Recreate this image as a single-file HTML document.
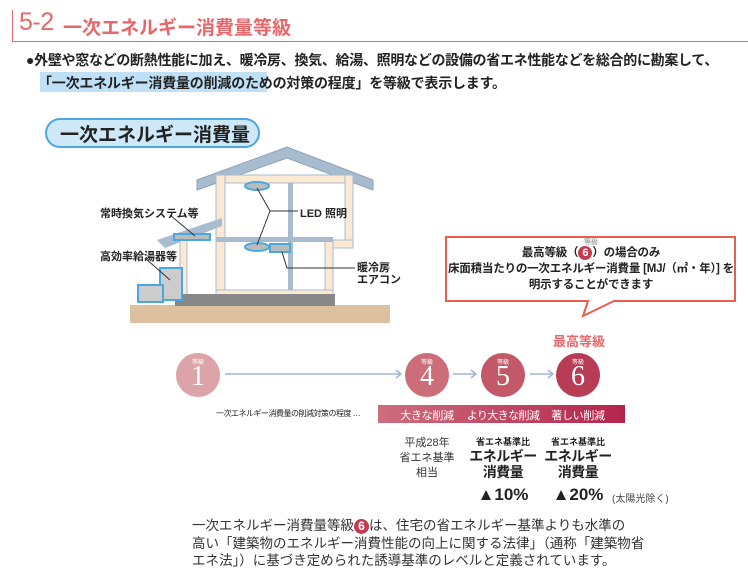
<!DOCTYPE html>
<html><head><meta charset="utf-8"><style>
body{margin:0;width:748px;height:578px;background:#fff;position:relative;overflow:hidden;font-family:"Liberation Sans","Noto Sans CJK JP",sans-serif;color:#222}
.a{position:absolute;white-space:nowrap}
.c{transform:translateX(-50%);text-align:center}
</style></head><body>
<div class="a" style="left:12px;top:10px;width:1px;height:31px;background:#e8676a"></div>
<div class="a" style="left:12px;top:41px;width:736px;height:1px;background:#e8676a"></div>
<div class="a" style="left:19px;top:8px;font-size:25px;color:#e8676a;letter-spacing:-0.5px">5-2</div>
<div class="a" style="left:63px;top:13px;font-size:19px;color:#e8676a;font-weight:bold">一次エネルギー消費量等級</div>
<div class="a" style="left:40px;top:72px;width:227px;height:20px;background:#bfe0f5"></div>
<div class="a" style="left:26px;top:50px;font-size:14px;font-weight:bold;letter-spacing:-0.3px">●外壁や窓などの断熱性能に加え、暖冷房、換気、給湯、照明などの設備の省エネ性能などを総合的に勘案して、</div>
<div class="a" style="left:38px;top:73px;font-size:14px;font-weight:bold;letter-spacing:-0.2px">「一次エネルギー消費量の削減のための対策の程度」を等級で表示します。</div>
<div class="a" style="left:45px;top:118px;width:211px;height:26px;border:2px solid #4aa8e0;border-radius:16px;background:#cfe8f8"></div>
<div class="a" style="left:60px;top:120px;font-size:19px;font-weight:bold">一次エネルギー消費量</div>

<svg class="a" style="left:0;top:0" width="748" height="578">
<rect x="130" y="305" width="260" height="18" fill="#dcc0a0"/>
<polygon points="197,180 287,147 373,180 373,190 287,158 197,190" fill="#a8bccf" stroke="#8fa3b8"/>
<rect x="216" y="175" width="137" height="8" fill="#fbe9d4" stroke="#a8bccf"/>
<rect x="216" y="175" width="9" height="120" fill="#fbe9d4" stroke="#a8bccf"/>
<rect x="345" y="175" width="8" height="70" fill="#fbe9d4" stroke="#a8bccf"/>
<rect x="325" y="240" width="28" height="8" fill="#fbe9d4" stroke="#a8bccf"/>
<rect x="325" y="240" width="8" height="55" fill="#fbe9d4" stroke="#a8bccf"/>
<rect x="216" y="237" width="117" height="5" fill="#a8bccf"/>
<rect x="288" y="183" width="5" height="107" fill="#a8bccf"/>
<rect x="216" y="290" width="117" height="6" fill="#fbe9d4" stroke="#a8bccf"/>
<polygon points="157,240 222,218 222,226 165,248" fill="#a8bccf"/>
<rect x="180" y="240" width="7" height="60" fill="#fbe9d4" stroke="#a8bccf"/>
<rect x="175" y="294" width="160" height="12" fill="#888"/>
<rect x="160" y="268" width="22" height="32" fill="#ccc" stroke="#4aa8e0" stroke-width="2"/>
<rect x="138" y="285" width="25" height="17" fill="#ccc" stroke="#4aa8e0" stroke-width="2"/>
<rect x="174" y="234" width="36" height="6" fill="#bbb" stroke="#4aa8e0" stroke-width="2"/>
<ellipse cx="257" cy="186" rx="12" ry="4" fill="#bbb" stroke="#4aa8e0" stroke-width="2"/>
<ellipse cx="257" cy="247" rx="12" ry="4" fill="#bbb" stroke="#4aa8e0" stroke-width="2"/>
<rect x="270" y="244" width="20" height="8" fill="#bbb" stroke="#4aa8e0" stroke-width="2"/>
<g stroke="#333" fill="none"><path d="M257,188 L270,211 L298,211 M270,211 L257,245"/><path d="M282,252 L287,268 L355,268"/><path d="M170,215 L195,236"/><path d="M145,258 L170,280"/></g>
<polygon points="446,237 735,237 735,301 614,301 583,316 588,301 446,301" fill="#fff" stroke="#e8604c" stroke-width="2"/>
<line x1="225" y1="374" x2="400" y2="374" stroke="#9fb5d8" stroke-width="1.5"/><path d="M396,370 L401,374 L396,378" stroke="#9fb5d8" fill="none" stroke-width="1.5"/>
<line x1="453" y1="374" x2="475" y2="374" stroke="#9fb5d8" stroke-width="1.5"/><path d="M471,370 L476,374 L471,378" stroke="#9fb5d8" fill="none" stroke-width="1.5"/>
<line x1="530" y1="374" x2="552" y2="374" stroke="#9fb5d8" stroke-width="1.5"/><path d="M548,370 L553,374 L548,378" stroke="#9fb5d8" fill="none" stroke-width="1.5"/>
<circle cx="198" cy="375" r="22" fill="#dca3a8"/>
<circle cx="427" cy="375" r="22" fill="#cc6e7a"/>
<circle cx="503" cy="375" r="22" fill="#c25868"/>
<circle cx="578" cy="375" r="22" fill="#b83c55"/>
<defs><linearGradient id="g"><stop offset="0" stop-color="#cd6e7d"/><stop offset="1" stop-color="#b3244c"/></linearGradient></defs>
<rect x="378" y="405" width="247" height="18" fill="url(#g)"/>
</svg>
<div class="a" style="left:100px;top:205px;font-size:11px;font-weight:bold">常時換気システム等</div>
<div class="a" style="left:100px;top:248px;font-size:11px;font-weight:bold">高効率給湯器等</div>
<div class="a" style="left:300px;top:205px;font-size:11px;font-weight:bold">LED 照明</div>
<div class="a" style="left:357px;top:262px;font-size:11px;font-weight:bold;line-height:12px">暖冷房<br>エアコン</div>

<div class="a c" style="left:591px;top:237px;font-size:7px;color:#888">等級</div>
<div class="a c" style="left:591px;top:245px;font-size:11.5px;font-weight:bold;line-height:16px;letter-spacing:-0.2px">最高等級（<span style="display:inline-block;width:14px;height:14px;border-radius:50%;background:#c33c52;color:#fff;font-size:11px;line-height:14px">6</span>）の場合のみ<br>床面積当たりの一次エネルギー消費量 [MJ/（㎡・年）] を<br>明示することができます</div>

<div class="a" style="left:553px;top:331px;font-size:13px;font-weight:bold;color:#e8676a">最高等級</div>
<div class="a c" style="left:198px;top:357px;font-size:6px;color:#fff">等級</div>
<div class="a c" style="left:198px;top:361px;font-size:28px;color:#fff;font-family:'Liberation Serif',serif">1</div>
<div class="a c" style="left:427px;top:357px;font-size:6px;color:#fff">等級</div>
<div class="a c" style="left:427px;top:361px;font-size:28px;color:#fff;font-family:'Liberation Serif',serif">4</div>
<div class="a c" style="left:503px;top:357px;font-size:6px;color:#fff">等級</div>
<div class="a c" style="left:503px;top:361px;font-size:28px;color:#fff;font-family:'Liberation Serif',serif">5</div>
<div class="a c" style="left:578px;top:357px;font-size:6px;color:#fff">等級</div>
<div class="a c" style="left:578px;top:361px;font-size:28px;color:#fff;font-family:'Liberation Serif',serif">6</div>
<div class="a" style="left:216px;top:408px;font-size:8px;letter-spacing:-0.5px">一次エネルギー消費量の削減対策の程度 …</div>
<div class="a c" style="left:427px;top:407px;font-size:11px;color:#fff;letter-spacing:-0.3px">大きな削減</div>
<div class="a c" style="left:503px;top:407px;font-size:11px;color:#fff;letter-spacing:-0.6px">より大きな削減</div>
<div class="a c" style="left:578px;top:407px;font-size:11px;color:#fff;letter-spacing:-0.3px">著しい削減</div>
<div class="a c" style="left:427px;top:436px;font-size:11px;line-height:15px;color:#333">平成28年<br>省エネ基準<br>相当</div>
<div class="a c" style="left:503px;top:435px;font-size:9px;font-weight:bold">省エネ基準比</div>
<div class="a c" style="left:503px;top:448px;font-size:14px;font-weight:bold;line-height:16px;letter-spacing:-0.5px">エネルギー<br>消費量</div>
<div class="a c" style="left:503px;top:485px;font-size:17px;font-weight:bold">▲10%</div>
<div class="a c" style="left:578px;top:435px;font-size:9px;font-weight:bold">省エネ基準比</div>
<div class="a c" style="left:578px;top:448px;font-size:14px;font-weight:bold;line-height:16px;letter-spacing:-0.5px">エネルギー<br>消費量</div>
<div class="a c" style="left:578px;top:485px;font-size:17px;font-weight:bold">▲20%</div>
<div class="a" style="left:612px;top:490px;font-size:10px;color:#444">(太陽光除く)</div>

<div class="a" style="left:192px;top:517px;font-size:13.5px;line-height:17.5px;color:#333">一次エネルギー消費量等級<span style="display:inline-block;width:15px;height:15px;border-radius:50%;background:#c33c52;color:#fff;font-size:12px;line-height:15px;text-align:center;font-weight:bold">6</span>は、住宅の省エネルギー基準よりも水準の<br>高い「建築物のエネルギー消費性能の向上に関する法律」（通称「建築物省<br>エネ法」）に基づき定められた誘導基準のレベルと定義されています。</div>
</body></html>
